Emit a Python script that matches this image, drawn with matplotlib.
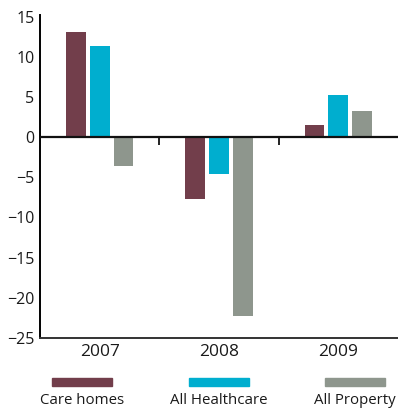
import matplotlib
matplotlib.use("Agg")
from matplotlib import pyplot as plt
from matplotlib.patches import Rectangle
import numpy as np

plt.rcParams['font.family'] = ['Open Sans', 'DejaVu Sans']

years = ['2007', '2008', '2009']
series = ['Care homes', 'All Healthcare', 'All Property']
care_homes = [13.1, -7.7, 1.5]
all_healthcare = [11.4, -4.6, 5.2]
all_property = [-3.6, -22.3, 3.3]
colors = ['#723e4b', '#00aecf', '#8e968d']

fig = plt.figure(figsize=(3.98, 4.12), dpi=100)
ax = fig.add_axes([40/398, 74/412, 358/398, 323/412])

x = np.arange(len(years))
w = 1/6
for i, (vals, c) in enumerate(zip([care_homes, all_healthcare, all_property], colors)):
    ax.bar(x + (i - 1) * 0.2, vals, width=w, color=c, zorder=2)

ax.set_xlim(-0.5, 2.5)
ax.set_ylim(-25, 15.2)
ax.axhline(0, color='#111111', lw=1.6, zorder=3)
# little separators between the year groups on the zero line
ax.vlines([0.5, 1.5], -1.0, 0, color='#111111', lw=1.3, zorder=3)

for s in ['top', 'right']:
    ax.spines[s].set_visible(False)
ax.spines['left'].set_linewidth(1.4)
ax.spines['bottom'].set_linewidth(1.4)
ax.spines['bottom'].set_color('#333333')

ax.set_yticks(range(-25, 16, 5))
ax.set_xticks(x)
ax.set_xticklabels(years)
ax.tick_params(axis='y', length=0, pad=4, labelsize=11.5, labelcolor='#1a1a1a')
ax.tick_params(axis='x', length=0, pad=4, labelsize=12.5, labelcolor='#1a1a1a')

# legend: swatch above label
legend_x = [82, 219, 355]
for lx, name, c in zip(legend_x, series, colors):
    fig.patches.append(Rectangle(((lx - 30) / 398, 1 - 386 / 412), 60 / 398, 8 / 412,
                                 transform=fig.transFigure, color=c))
    fig.text(lx / 398, 1 - 401 / 412, name, ha='center', va='center',
             fontsize=10.8, color='#1a1a1a')

fig.savefig('out.png', dpi=100)
